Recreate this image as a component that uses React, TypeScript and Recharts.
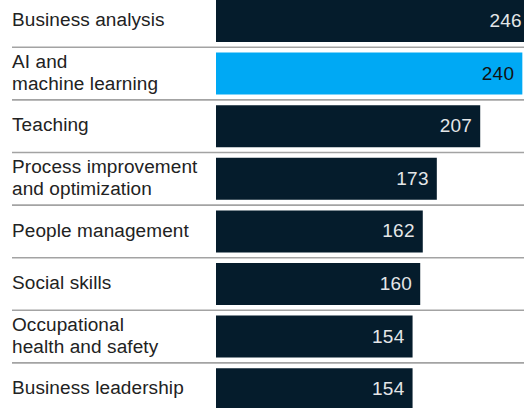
import { Bar, BarChart, Cell, LabelList, XAxis, YAxis } from "recharts";

const skills = [
  "Business analysis",
  "AI and\nmachine learning",
  "Teaching",
  "Process improvement\nand optimization",
  "People management",
  "Social skills",
  "Occupational\nhealth and safety",
  "Business leadership",
];
const counts = [246, 240, 207, 173, 162, 160, 154, 154];
const highlighted = ["AI and\nmachine learning"];

const data = skills.map((skill, i) => ({ skill, count: counts[i] }));

const NAVY = "#051c2c";
const BLUE = "#00a9f4";
const FONT = "'Liberation Sans', Arial, sans-serif";
const ROW = 52.6;

const SkillTick = (props: any) => {
  const { y, payload, index } = props;
  const lines = String(payload.value).split("\n");
  const base = y + 5;
  return (
    <g>
      <text
        x={12}
        y={lines.length > 1 ? base - 11 : base}
        fill="#222"
        fontSize={19}
        fontFamily={FONT}
        letterSpacing={0.1}
      >
        {lines.map((line, i) => (
          <tspan key={i} x={12} dy={i === 0 ? 0 : 22}>
            {line}
          </tspan>
        ))}
      </text>
      {index < skills.length - 1 && (
        <line x1={12} x2={530} y1={y + 26} y2={y + 26} stroke="#a3a3a3" strokeWidth={1.6} />
      )}
    </g>
  );
};

const ValueLabel = (props: any) => {
  const { x, y, width, height, value, index } = props;
  const hi = highlighted.includes(skills[index]);
  return (
    <text
      x={x + width - 8}
      y={y + height / 2 + 6}
      textAnchor="end"
      fill={hi ? "#111" : "#e4e6e8"}
      fontSize={19}
      fontFamily={FONT}
      letterSpacing={0.3}
    >
      {value}
    </text>
  );
};

export default function App() {
  return (
    <div style={{ position: "absolute", left: 0, top: 0, width: 524, height: 408, overflow: "hidden" }}>
      <div style={{ position: "absolute", left: 0, top: -5.3 }}>
        <BarChart
          width={530}
          height={ROW * skills.length}
          data={data}
          layout="vertical"
          margin={{ top: 0, right: 0, bottom: 0, left: 0 }}
        >
          <XAxis type="number" domain={[0, 246]} hide />
          <YAxis
            type="category"
            dataKey="skill"
            width={216}
            axisLine={false}
            tickLine={false}
            tick={<SkillTick />}
            interval={0}
          />
          <Bar dataKey="count" barSize={42} isAnimationActive={false}>
            {data.map((d) => (
              <Cell key={d.skill} fill={highlighted.includes(d.skill) ? BLUE : NAVY} />
            ))}
            <LabelList dataKey="count" content={<ValueLabel />} />
          </Bar>
        </BarChart>
      </div>
    </div>
  );
}
